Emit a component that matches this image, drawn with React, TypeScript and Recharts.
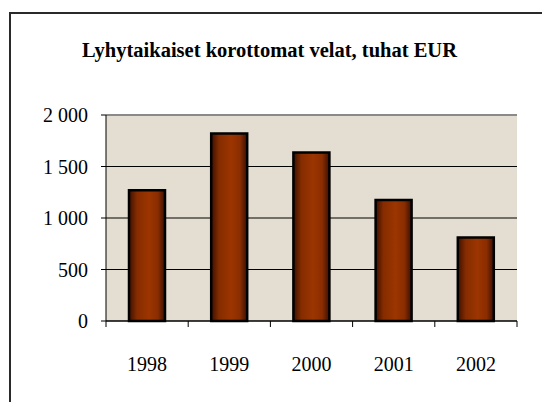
import React from "react";
import {
  BarChart,
  Bar,
  XAxis,
  YAxis,
  CartesianGrid,
  ReferenceLine,
} from "recharts";

const TITLE = "Lyhytaikaiset korottomat velat, tuhat EUR";
const years = ["1998", "1999", "2000", "2001", "2002"];
const values = [1270, 1820, 1635, 1175, 810];
const yTicks = [0, 500, 1000, 1500, 2000];

const data = years.map((y, i) => ({ year: y, value: values[i] }));

const FONT =
  "'Liberation Serif', Tinos, 'Times New Roman', Times, 'DejaVu Serif', serif";
const X_TICK_SIZE = 6;
const X_TICK_MARGIN = 30;

const fmt = (v: number) =>
  String(v).replace(/\B(?=(\d{3})+(?!\d))/g, " ");

const XTick = (props: any) => {
  const { x, y, payload, index, visibleTicksCount } = props;
  const half = payload && payload.offset ? payload.offset : 41;
  const axisY = y - X_TICK_SIZE - X_TICK_MARGIN;
  const last = index === (visibleTicksCount ?? years.length) - 1;
  return (
    <g>
      <line
        x1={x - half}
        x2={x - half}
        y1={axisY}
        y2={axisY + X_TICK_SIZE}
        stroke="#000"
        strokeWidth={1}
      />
      {last && (
        <line
          x1={x + half}
          x2={x + half}
          y1={axisY}
          y2={axisY + X_TICK_SIZE}
          stroke="#000"
          strokeWidth={1}
        />
      )}
      <text
        x={x}
        y={y}
        dy="0.71em"
        textAnchor="middle"
        fill="#000"
        fontSize={20}
        style={{ fontFamily: FONT }}
      >
        {payload.value}
      </text>
    </g>
  );
};

export default function App() {
  return (
    <div
      style={{
        position: "fixed",
        left: 0,
        top: 0,
        width: 542,
        height: 402,
        overflow: "hidden",
        background: "#fff",
        fontFamily: FONT,
      }}
    >
      <div
        style={{
          position: "absolute",
          left: 9,
          top: 12,
          width: 700,
          height: 600,
          borderLeft: "2px solid #2a2a2a",
          borderTop: "2px solid #2a2a2a",
        }}
      />
      <div
        style={{
          position: "absolute",
          left: 0,
          top: 40,
          width: 539,
          textAlign: "center",
          fontFamily: FONT,
          fontWeight: "bold",
          fontSize: 20.5,
          lineHeight: 1,
          color: "#000",
          whiteSpace: "nowrap",
        }}
      >
        {TITLE}
      </div>
      <div style={{ position: "absolute", left: 0, top: 0 }}>
        <BarChart
          width={542}
          height={402}
          data={data}
          margin={{ top: 115, right: 25, bottom: 45, left: 10 }}
          barSize={36}
          style={{ fontFamily: FONT }}
        >
          <defs>
            <linearGradient id="barGrad" x1="0" y1="0" x2="1" y2="0">
              <stop offset="0%" stopColor="#3d1000" />
              <stop offset="22%" stopColor="#852c00" />
              <stop offset="55%" stopColor="#9c3500" />
              <stop offset="80%" stopColor="#8a2d00" />
              <stop offset="100%" stopColor="#3a0f00" />
            </linearGradient>
          </defs>
          <CartesianGrid
            vertical={false}
            stroke="#000"
            strokeWidth={1}
            fill="#e4ddd1"
            fillOpacity={1}
          />
          <XAxis
            dataKey="year"
            axisLine={{ stroke: "#000", strokeWidth: 1 }}
            tickLine={{ stroke: "none" }}
            tickSize={X_TICK_SIZE}
            tickMargin={X_TICK_MARGIN}
            tick={<XTick />}
            height={36}
            interval={0}
          />
          <YAxis
            domain={[0, 2000]}
            ticks={yTicks}
            tickFormatter={fmt}
            width={96}
            axisLine={{ stroke: "#000", strokeWidth: 1 }}
            tickLine={{ stroke: "#000", strokeWidth: 1 }}
            tickSize={5}
            tickMargin={13}
            tick={{ fill: "#000", fontSize: 20, style: { fontFamily: FONT } }}
            interval={0}
          />
          <YAxis
            yAxisId="right"
            orientation="right"
            domain={[0, 2000]}
            width={0}
            tick={false}
            tickLine={false}
            axisLine={{ stroke: "#8a8a8a", strokeWidth: 2 }}
          />
          <ReferenceLine y={2000} stroke="#8a8a8a" strokeWidth={2} />
          <Bar
            dataKey="value"
            fill="url(#barGrad)"
            stroke="#000"
            strokeWidth={2.5}
            isAnimationActive={false}
          />
        </BarChart>
      </div>
    </div>
  );
}
